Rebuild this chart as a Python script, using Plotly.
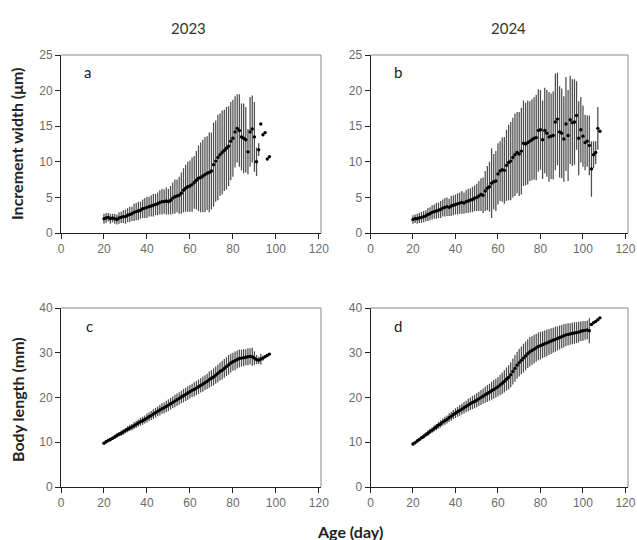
import plotly.graph_objects as go

# ---------------- data ----------------
days_2023 = list(range(20, 98))
days_2024 = list(range(20, 109))

inc_mean_2023 = [2.0, 2.1, 2.2, 2.0, 2.1, 2.0, 1.9, 2.1, 2.2, 2.3,
                 2.3, 2.5, 2.6, 2.7, 2.9, 3.0, 3.1, 3.2, 3.4, 3.5,
                 3.6, 3.7, 3.8, 3.9, 4.0, 4.1, 4.3, 4.4, 4.4, 4.5,
                 4.4, 4.6, 4.9, 5.1, 5.2, 5.3, 5.6, 6.0, 6.3, 6.5,
                 6.6, 6.8, 7.1, 7.4, 7.7, 7.8, 8.0, 8.2, 8.4, 8.5,
                 8.7, 9.6, 10.1, 10.6, 11.0, 11.3, 11.6, 11.9, 12.2, 12.9,
                 13.3, 14.2, 14.7, 14.4, 13.5, 13.3, 13.1, 11.4, 14.2, 14.6,
                 13.5, 10.0, 11.7, 15.3, 13.8, 14.1, 10.4, 10.7]
inc_sd_2023 = [0.7, 0.7, 0.6, 0.7, 0.6, 0.7, 0.7, 0.8, 0.8, 0.9,
               1.0, 1.0, 1.1, 1.0, 1.2, 1.2, 1.3, 1.2, 1.3, 1.4,
               1.5, 1.4, 1.5, 1.6, 1.5, 1.6, 1.7, 1.8, 1.7, 1.9,
               1.8, 2.0, 2.2, 2.4, 2.3, 2.6, 2.9, 3.1, 3.3, 3.5,
               3.6, 3.8, 3.7, 4.1, 4.6, 4.9, 5.1, 5.3, 5.2, 5.6,
               5.4, 5.9, 5.7, 6.0, 5.8, 5.9, 5.7, 5.8, 5.6, 5.5,
               5.4, 5.0, 4.8, 5.1, 4.7, 4.9, 4.6, 3.2, 4.9, 4.7,
               4.9, 2.0, 0.9, 0, 0, 0, 0, 0]

inc_mean_2024 = [1.9, 2.0, 2.0, 2.1, 2.2, 2.3, 2.4, 2.6, 2.7, 2.9,
                 3.0, 3.1, 3.2, 3.3, 3.5, 3.6, 3.7, 3.6, 3.8, 3.9,
                 4.0, 4.1, 4.2, 4.3, 4.2, 4.4, 4.5, 4.6, 4.7, 4.9,
                 5.0, 5.2, 5.4, 5.3, 5.9, 6.3, 6.5, 7.0, 7.2, 7.3,
                 8.3, 8.7, 8.9, 8.8, 9.5, 9.9, 10.1, 10.6, 11.0, 11.3,
                 11.1, 11.5, 12.6, 12.5, 12.7, 12.9, 13.1, 13.3, 13.4, 14.4,
                 14.5, 13.1, 14.4, 14.0, 13.5, 13.6, 13.7, 15.6, 16.0, 14.2,
                 14.0, 13.2, 15.3, 13.7, 15.9, 15.5, 15.6, 16.5, 13.3, 14.5,
                 13.6, 12.7, 12.9, 12.3, 9.0, 11.0, 11.3, 14.7, 14.3]
inc_sd_2024 = [0.6, 0.6, 0.7, 0.7, 0.8, 0.8, 0.8, 0.9, 0.9, 1.0,
               1.0, 1.1, 1.1, 1.2, 1.2, 1.3, 1.3, 1.2, 1.4, 1.4,
               1.4, 1.5, 1.5, 1.6, 1.5, 1.6, 1.7, 1.7, 1.8, 1.8,
               1.9, 2.1, 2.3, 2.5, 2.8, 3.1, 3.5, 4.9, 3.9, 4.2,
               4.3, 4.2, 4.5, 4.7, 5.0, 5.3, 5.5, 5.6, 5.8, 5.7,
               5.9, 6.1, 6.0, 5.8, 5.9, 5.6, 5.7, 5.8, 6.0, 5.8,
               5.6, 5.5, 6.0, 6.1, 6.3, 6.0, 6.2, 6.8, 6.5, 6.4,
               6.3, 6.0, 6.6, 6.4, 6.2, 6.1, 6.0, 4.8, 5.2, 4.6,
               4.3, 3.9, 3.6, 4.2, 3.9, 1.9, 1.6, 3.0, 0]

len_mean_2023 = [9.8, 10.1, 10.4, 10.6, 10.9, 11.2, 11.5, 11.8, 12.0, 12.3,
                 12.6, 12.9, 13.2, 13.4, 13.7, 14.0, 14.3, 14.6, 14.8, 15.1,
                 15.4, 15.7, 16.0, 16.3, 16.6, 16.9, 17.2, 17.5, 17.7, 18.0,
                 18.3, 18.6, 18.9, 19.2, 19.5, 19.8, 20.1, 20.4, 20.7, 21.0,
                 21.3, 21.6, 21.8, 22.1, 22.4, 22.7, 23.0, 23.3, 23.6, 24.0,
                 24.3, 24.6, 25.0, 25.4, 25.8, 26.1, 26.5, 26.9, 27.3, 27.7,
                 28.0, 28.2, 28.5, 28.7, 28.8, 28.9, 29.0, 29.1, 29.2, 29.1,
                 28.8, 28.5, 28.3, 28.6, 28.8, 29.1, 29.4, 29.7]
len_sd_2023 = [0.3, 0.3, 0.4, 0.4, 0.4, 0.5, 0.5, 0.5, 0.6, 0.6,
               0.6, 0.7, 0.7, 0.7, 0.8, 0.8, 0.8, 0.9, 0.9, 0.9,
               1.0, 1.0, 1.0, 1.1, 1.1, 1.1, 1.2, 1.2, 1.2, 1.3,
               1.3, 1.3, 1.3, 1.4, 1.4, 1.4, 1.4, 1.5, 1.5, 1.5,
               1.5, 1.5, 1.6, 1.6, 1.6, 1.6, 1.7, 1.7, 1.7, 1.8,
               1.8, 1.9, 1.9, 2.0, 2.0, 2.1, 2.1, 2.1, 2.2, 2.1,
               2.0, 2.1, 2.0, 2.0, 1.9, 1.9, 1.8, 1.9, 1.8, 2.0,
               1.5, 1.0, 0.8, 1.2, 0.6, 0, 0, 0]

len_mean_2024 = [9.6, 9.9, 10.3, 10.6, 11.0, 11.3, 11.7, 12.0, 12.4, 12.7,
                 13.1, 13.4, 13.8, 14.1, 14.5, 14.8, 15.1, 15.5, 15.8, 16.2,
                 16.5, 16.8, 17.1, 17.4, 17.7, 18.0, 18.3, 18.6, 18.9, 19.1,
                 19.4, 19.7, 20.0, 20.3, 20.6, 20.9, 21.2, 21.5, 21.8, 22.1,
                 22.4, 22.8, 23.2, 23.6, 24.1, 24.5, 25.1, 25.8, 26.5, 27.2,
                 27.8, 28.3, 28.8, 29.3, 29.8, 30.2, 30.5, 30.8, 31.1, 31.4,
                 31.6, 31.8, 32.0, 32.2, 32.4, 32.6, 32.8, 33.0, 33.2, 33.4,
                 33.6, 33.8, 34.0, 34.1, 34.2, 34.3, 34.4, 34.5, 34.6, 34.8,
                 34.9, 35.0, 35.1, 34.9, 36.3, 36.7, 37.0, 37.4, 37.8]
len_sd_2024 = [0.3, 0.3, 0.4, 0.4, 0.4, 0.5, 0.5, 0.6, 0.6, 0.6,
               0.7, 0.7, 0.8, 0.8, 0.8, 0.9, 0.9, 1.0, 1.0, 1.0,
               1.1, 1.1, 1.2, 1.2, 1.3, 1.3, 1.4, 1.4, 1.5, 1.5,
               1.6, 1.6, 1.7, 1.7, 1.8, 1.9, 1.9, 2.0, 2.1, 2.1,
               2.2, 2.3, 2.4, 2.5, 2.6, 2.7, 2.8, 2.9, 3.0, 3.0,
               3.1, 3.1, 3.2, 3.2, 3.2, 3.3, 3.2, 3.2, 3.1, 3.1,
               3.1, 3.0, 3.0, 3.0, 2.9, 2.9, 2.8, 2.8, 2.7, 2.7,
               2.6, 2.6, 2.5, 2.5, 2.4, 2.4, 2.4, 2.3, 2.3, 2.2,
               2.2, 2.1, 2.1, 2.8, 0, 0, 0, 0, 0]

x_ticks = [0, 20, 40, 60, 80, 100, 120]
inc_ticks = [0, 5, 10, 15, 20, 25]
len_ticks = [0, 10, 20, 30, 40]
col_titles = ["2023", "2024"]
panel_labels = ["a", "b", "c", "d"]

# ---------------- figure ----------------
W, H = 637, 540
fig = go.Figure()

BAR_COL = "#4d4d4d"


def add_panel(xs, ys, sd, xa, ya):
    fig.add_trace(go.Scatter(
        x=xs, y=ys, mode="markers", xaxis=xa, yaxis=ya, showlegend=False,
        hoverinfo="skip",
        marker=dict(color="black", size=3.4, line=dict(width=0)),
        error_y=dict(type="data", array=sd, visible=True, width=0,
                     thickness=1.25, color=BAR_COL),
    ))


add_panel(days_2023, inc_mean_2023, inc_sd_2023, "x", "y")
add_panel(days_2024, inc_mean_2024, inc_sd_2024, "x2", "y2")
add_panel(days_2023, len_mean_2023, len_sd_2023, "x3", "y3")
add_panel(days_2024, len_mean_2024, len_sd_2024, "x4", "y4")


# pixel geometry -> paper fractions
def px(v):
    return v / W


def py(v):
    return 1 - v / H


xdom_l = [px(61), px(321)]
xdom_r = [px(370.5), px(628)]
ydom_t = [py(233), py(55)]
ydom_b = [py(487), py(308)]

tickfont = dict(family="Liberation Sans, Arial, sans-serif", size=12, color="#6b6b6b")
ax_common = dict(showline=True, linecolor="#222", linewidth=1, ticks="outside",
                 ticklen=5, tickcolor="#222", tickwidth=1, tickfont=tickfont,
                 showgrid=False, zeroline=False, mirror=False, automargin=False)

fig.update_layout(
    width=W, height=H, autosize=False, margin=dict(l=0, r=0, t=0, b=0, pad=0),
    paper_bgcolor="white", plot_bgcolor="white", hovermode=False,
    xaxis=dict(domain=xdom_l, range=[0, 121], tickvals=x_ticks, anchor="y", **ax_common),
    yaxis=dict(domain=ydom_t, range=[0, 25], tickvals=inc_ticks, anchor="x", **ax_common),
    xaxis2=dict(domain=xdom_r, range=[0, 121.2], tickvals=x_ticks, anchor="y2", **ax_common),
    yaxis2=dict(domain=ydom_t, range=[0, 25], tickvals=inc_ticks, anchor="x2", **ax_common),
    xaxis3=dict(domain=xdom_l, range=[0, 121], tickvals=x_ticks, anchor="y3", **ax_common),
    yaxis3=dict(domain=ydom_b, range=[0, 40], tickvals=len_ticks, anchor="x3", **ax_common),
    xaxis4=dict(domain=xdom_r, range=[0, 121.2], tickvals=x_ticks, anchor="y4", **ax_common),
    yaxis4=dict(domain=ydom_b, range=[0, 40], tickvals=len_ticks, anchor="x4", **ax_common),
)

# grey top/right frame lines
shapes = []
for xd, yd in [(xdom_l, ydom_t), (xdom_r, ydom_t), (xdom_l, ydom_b), (xdom_r, ydom_b)]:
    shapes.append(dict(type="line", xref="paper", yref="paper", x0=xd[0], x1=xd[1],
                       y0=yd[1], y1=yd[1], line=dict(color="#8a8a8a", width=1)))
    shapes.append(dict(type="line", xref="paper", yref="paper", x0=xd[1], x1=xd[1],
                       y0=yd[0], y1=yd[1], line=dict(color="#8a8a8a", width=1)))
fig.update_layout(shapes=shapes)

title_font = dict(family="Lato, Carlito, sans-serif", size=15, color="#333")
bold_font = dict(family="Lato, Carlito, sans-serif", size=16, color="#222")
lab_font = dict(family="Lato, Carlito, sans-serif", size=15, color="#222")


def note(text, x, y, font, angle=0):
    return dict(text=text, x=px(x), y=py(y), xref="paper", yref="paper",
                xanchor="center", yanchor="middle", showarrow=False,
                textangle=angle, font=font)


ann = [
    note(col_titles[0], 188, 28, title_font),
    note(col_titles[1], 508, 28, title_font),
    note("<b>Increment width (μm)</b>", 17, 144, bold_font, -90),
    note("<b>Body length (mm)</b>", 17, 400, bold_font, -90),
    note("<b>Age (day)</b>", 350, 531, bold_font),
]
for lab, (lx, ly) in zip(panel_labels, [(87, 72), (398, 72), (89, 326), (398, 326)]):
    ann.append(note(lab, lx, ly, lab_font))
fig.update_layout(annotations=ann)

fig.write_html("out.html",
               config={"displayModeBar": False, "staticPlot": True},
               post_script="document.body.style.margin='0';"
                           "document.body.style.overflow='hidden';")
